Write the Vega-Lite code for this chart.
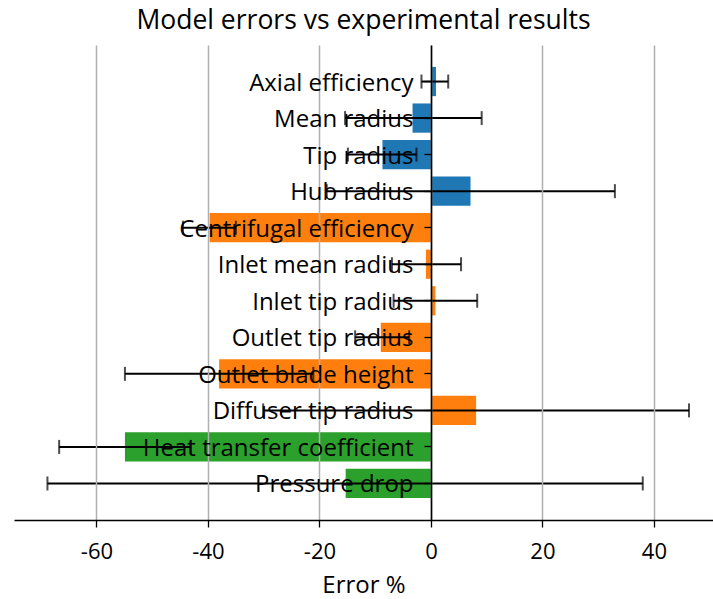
{
  "$schema": "https://vega.github.io/schema/vega-lite/v6.json",
  "width": 699,
  "height": 475,
  "autosize": {"type": "none"},
  "padding": {"left": 14, "top": 45, "right": 0, "bottom": 79},
  "title": {
    "text": "Model errors vs experimental results",
    "font": "Open Sans",
    "fontSize": 26.5,
    "fontWeight": "normal",
    "color": "black",
    "anchor": "middle",
    "frame": "group",
    "baseline": "alphabetic",
    "offset": 18,
    "dy": 28
  },
  "config": {"view": {"stroke": null}, "font": "Open Sans"},
  "data": {
    "values": [
      {"quantity": "Axial efficiency", "group": "Axial", "error": 0.9, "lo": -1.7, "hi": 3.1},
      {"quantity": "Mean radius", "group": "Axial", "error": -3.3, "lo": -15.4, "hi": 9.1},
      {"quantity": "Tip radius", "group": "Axial", "error": -8.7, "lo": -14.9, "hi": -2.6},
      {"quantity": "Hub radius", "group": "Axial", "error": 7.1, "lo": -18.7, "hi": 33.0},
      {"quantity": "Centrifugal efficiency", "group": "Centrifugal", "error": -39.7, "lo": -44.5, "hi": -35.0},
      {"quantity": "Inlet mean radius", "group": "Centrifugal", "error": -0.9, "lo": -7.0, "hi": 5.4},
      {"quantity": "Inlet tip radius", "group": "Centrifugal", "error": 0.8, "lo": -6.7, "hi": 8.3},
      {"quantity": "Outlet tip radius", "group": "Centrifugal", "error": -9.0, "lo": -13.6, "hi": -3.9},
      {"quantity": "Outlet blade height", "group": "Centrifugal", "error": -38.0, "lo": -54.9, "hi": -21.1},
      {"quantity": "Diffuser tip radius", "group": "Centrifugal", "error": 8.1, "lo": -30.1, "hi": 46.3},
      {"quantity": "Heat transfer coefficient", "group": "System", "error": -54.9, "lo": -66.7, "hi": -43.1},
      {"quantity": "Pressure drop", "group": "System", "error": -15.3, "lo": -68.8, "hi": 38.0}
    ]
  },
  "encoding": {
    "y": {
      "field": "quantity",
      "type": "nominal",
      "sort": null,
      "scale": {"paddingInner": 0.2, "paddingOuter": 0.6},
      "axis": {
        "title": null,
        "offset": -417,
        "domainColor": "black",
        "domainWidth": 1.6,
        "tickColor": "black",
        "tickWidth": 1.3,
        "tickSize": 7,
        "labelPadding": 11,
        "labelOffset": 2,
        "labelFont": "Open Sans",
        "labelFontSize": 24,
        "labelColor": "black",
        "labelLimit": 0,
        "labelBaseline": "middle",
        "grid": false,
        "zindex": 1
      }
    }
  },
  "layer": [
    {
      "mark": {"type": "bar"},
      "encoding": {
        "x": {
          "field": "error",
          "type": "quantitative",
          "title": "Error %",
          "scale": {"domain": [-74.8, 50.6], "nice": false, "zero": false},
          "axis": {
            "values": [-60, -40, -20, 0, 20, 40],
            "labelExpr": "toString(datum.value)",
            "grid": true,
            "gridColor": "#b0b0b0",
            "gridWidth": 1.5,
            "domainColor": "black",
            "domainWidth": 1.6,
            "tickColor": "black",
            "tickWidth": 1.3,
            "tickSize": 7,
            "labelFont": "Open Sans",
            "labelFontSize": 22,
            "labelColor": "black",
            "labelPadding": 14,
            "titleFont": "Open Sans",
            "titleFontSize": 24,
            "titleFontWeight": "normal",
            "titleColor": "black",
            "titlePadding": 11,
            "zindex": 1
          }
        },
        "color": {
          "field": "group",
          "type": "nominal",
          "scale": {"domain": ["Axial", "Centrifugal", "System"], "range": ["#1f77b4", "#ff7f0e", "#2ca02c"]},
          "legend": null
        }
      }
    },
    {
      "mark": {"type": "rule", "color": "black", "strokeWidth": 2},
      "encoding": {
        "x": {"field": "lo", "type": "quantitative", "title": "Error %"},
        "x2": {"field": "hi"}
      }
    },
    {
      "mark": {"type": "tick", "color": "black", "thickness": 2, "size": 14},
      "encoding": {"x": {"field": "lo", "type": "quantitative", "title": "Error %"}}
    },
    {
      "mark": {"type": "tick", "color": "black", "thickness": 2, "size": 14},
      "encoding": {"x": {"field": "hi", "type": "quantitative", "title": "Error %"}}
    }
  ]
}
